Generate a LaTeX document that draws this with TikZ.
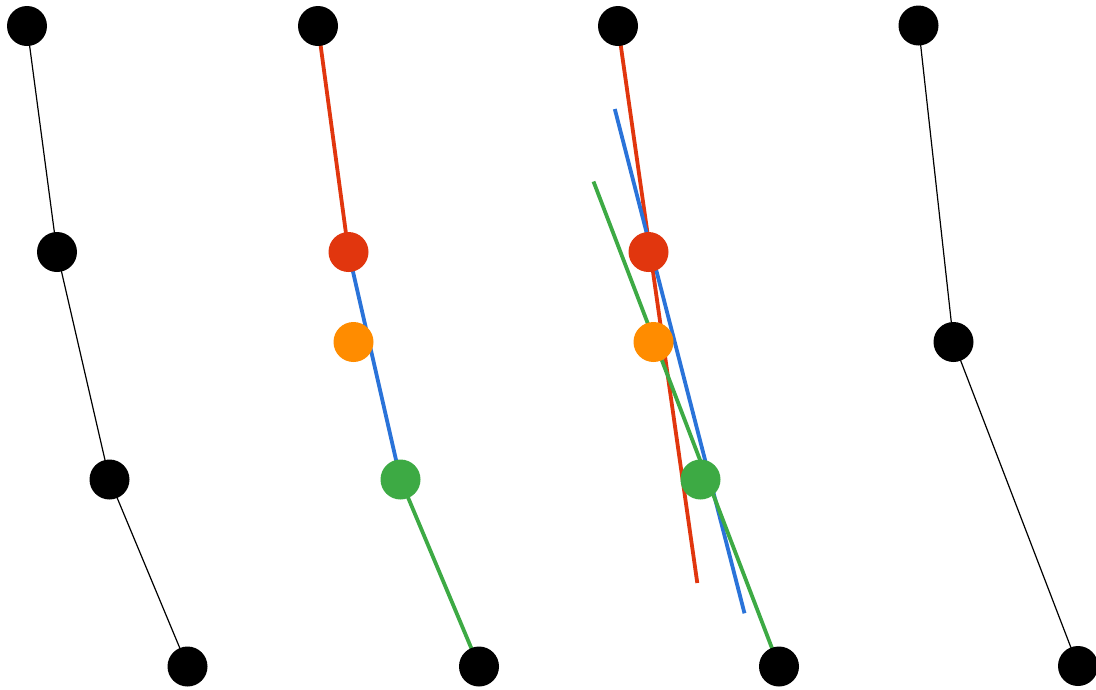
\documentclass[tikz,border=0pt]{standalone}
\definecolor{cred}{HTML}{E1360E}
\definecolor{corange}{HTML}{FF8C00}
\definecolor{cblue}{HTML}{2A73D9}
\definecolor{cgreen}{HTML}{3DAA44}
\tikzset{
  dot/.style={circle,inner sep=0pt,minimum size=40pt,fill=#1,draw=none},
  dot/.default=black,
  thin link/.style={draw=black,line width=1.2pt},
  thick link/.style={draw=#1,line width=3.8pt},
}
\begin{document}
\begin{tikzpicture}[x=1pt,y=-1pt]
\useasboundingbox (0,0) rectangle (1096,689);
% panel 1
\coordinate (a1) at (27,26);
\coordinate (a2) at (57,252);
\coordinate (a3) at (109.5,479.5);
\coordinate (a4) at (187.5,666.5);
\draw[thin link] (a1) -- (a2) -- (a3) -- (a4);
\node[dot] (na1) at (a1) {};
\node[dot] (na2) at (a2) {};
\node[dot] (na3) at (a3) {};
\node[dot] (na4) at (a4) {};
% panel 2
\coordinate (b1) at (318,26);
\coordinate (b2) at (348.5,252);
\coordinate (b3) at (353.5,342);
\coordinate (b4) at (400.5,479.5);
\coordinate (b5) at (479,666.5);
\draw[thick link=cred] (b1) -- (b2);
\draw[thick link=cblue] (b2) -- (b4);
\draw[thick link=cgreen] (b4) -- (b5);
\node[dot] (nb1) at (b1) {};
\node[dot=cred] (nb2) at (b2) {};
\node[dot=corange] (nb3) at (b3) {};
\node[dot=cgreen] (nb4) at (b4) {};
\node[dot] (nb5) at (b5) {};
% panel 3
\coordinate (c1) at (618,26);
\coordinate (c2) at (648.5,252);
\coordinate (c3) at (653.5,342);
\coordinate (c4) at (700.5,479.5);
\coordinate (c5) at (779,666.5);
\coordinate (redend) at (697.3,583);
\coordinate (bluestart) at (614.8,109);
\coordinate (blueend) at (744.5,613.3);
\coordinate (greenstart) at (593.5,181.5);
\draw[thick link=cred] (c1) -- (redend);
\draw[thick link=cblue] (bluestart) -- (blueend);
\draw[thick link=cgreen] (greenstart) -- (c5);
\node[dot] (nc1) at (c1) {};
\node[dot=cred] (nc2) at (c2) {};
\node[dot=corange] (nc3) at (c3) {};
\node[dot=cgreen] (nc4) at (c4) {};
\node[dot] (nc5) at (c5) {};
% panel 4
\coordinate (d1) at (918.5,25.5);
\coordinate (d2) at (953.5,342);
\coordinate (d3) at (1078,666);
\draw[thin link] (d1) -- (d2) -- (d3);
\node[dot] (nd1) at (d1) {};
\node[dot] (nd2) at (d2) {};
\node[dot] (nd3) at (d3) {};
\end{tikzpicture}
\end{document}
